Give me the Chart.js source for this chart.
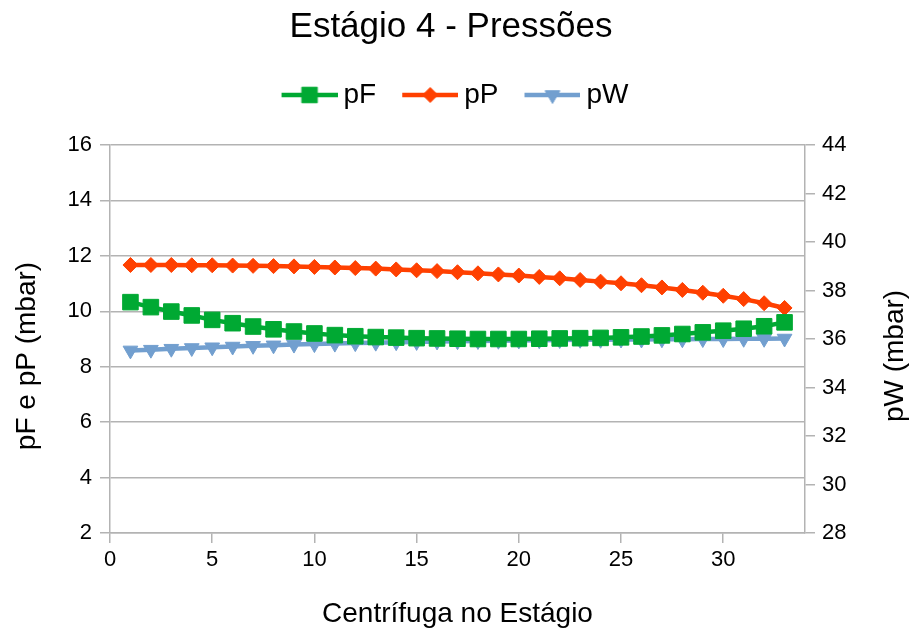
<!DOCTYPE html>
<html>
<head>
<meta charset="utf-8">
<title>Estágio 4 - Pressões</title>
<script src="https://cdn.jsdelivr.net/npm/chart.js@4.4.0/dist/chart.umd.min.js"></script>
<style>
	html, body { margin: 0; padding: 0; background: #fff; }
	#wrap { width: 910px; height: 637px; }
</style>
</head>
<body>
<div id="wrap"><canvas id="pressoes" width="910" height="637"></canvas></div>
<script>
// stage number of each centrifuge
const stages = [1, 2, 3, 4, 5, 6, 7, 8, 9, 10, 11, 12, 13, 14, 15, 16, 17,
	18, 19, 20, 21, 22, 23, 24, 25, 26, 27, 28, 29, 30, 31, 32, 33];

// pressures in mbar
const pF = [10.33, 10.15, 9.99, 9.85, 9.69, 9.57, 9.45, 9.35, 9.27, 9.20, 9.14,
	9.10, 9.07, 9.05, 9.03, 9.02, 9.01, 9.00, 9.00, 9.00, 9.01, 9.02,
	9.03, 9.04, 9.06, 9.09, 9.13, 9.18, 9.24, 9.30, 9.37, 9.46, 9.60];
const pP = [11.67, 11.67, 11.67, 11.66, 11.66, 11.65, 11.64, 11.63, 11.62, 11.60, 11.58,
	11.56, 11.54, 11.51, 11.48, 11.45, 11.41, 11.37, 11.33, 11.29, 11.24, 11.19,
	11.13, 11.07, 11.01, 10.94, 10.86, 10.77, 10.67, 10.56, 10.44, 10.29, 10.12];
const pW = [35.53, 35.56, 35.60, 35.63, 35.66, 35.69, 35.72, 35.74, 35.77, 35.79, 35.81,
	35.83, 35.85, 35.87, 35.88, 35.90, 35.91, 35.92, 35.93, 35.94, 35.95, 35.96,
	35.97, 35.97, 35.98, 35.98, 35.99, 35.99, 36.00, 36.00, 36.01, 36.01, 36.02];

// axis ticks
const xTicks = [0, 5, 10, 15, 20, 25, 30];
const xMax = 34;
const leftTicks = [2, 4, 6, 8, 10, 12, 14, 16];
const rightTicks = [28, 30, 32, 34, 36, 38, 40, 42, 44];

const GREEN = "#00a933";
const RED = "#ff4000";
const BLUE = "#729fcf";
const GRID = "#b3b3b3";
const FONT = '"Liberation Sans", Arial, sans-serif';

Chart.defaults.font.family = FONT;
Chart.defaults.color = "#000";

const toPoints = (ys) => stages.map((s, i) => ({ x: s, y: ys[i] }));

const markers = [
	{ pointStyle: "rect", pointRadius: 11, pointRotation: 0 },
	{ pointStyle: "rectRot", pointRadius: 7.5, pointRotation: 0 },
	{ pointStyle: "triangle", pointRadius: 8.5, pointRotation: 180 }
];

// legend swatch: a short line with the marker in the middle
function legendIcon(color, m) {
	const c = document.createElement("canvas");
	c.width = 72;
	c.height = 26;
	const ctx = c.getContext("2d");
	ctx.strokeStyle = color;
	ctx.fillStyle = color;
	ctx.lineWidth = 4.5;
	ctx.beginPath();
	ctx.moveTo(16, 13);
	ctx.lineTo(72, 13);
	ctx.stroke();
	ctx.lineWidth = 1;
	Chart.helpers.drawPoint(ctx, {
		pointStyle: m.pointStyle, radius: m.pointRadius, rotation: m.pointRotation, borderWidth: 1
	}, 44, 13);
	return c;
}

function series(label, data, color, m, axis) {
	return {
		label,
		data: toPoints(data),
		yAxisID: axis,
		borderColor: color,
		backgroundColor: color,
		borderWidth: 4.5,
		tension: 0,
		pointBackgroundColor: color,
		pointBorderColor: color,
		pointBorderWidth: 1,
		...m
	};
}

const datasets = [
	series("pF", pF, GREEN, markers[0], "y"),
	series("pP", pP, RED, markers[1], "y"),
	series("pW", pW, BLUE, markers[2], "y1")
];
const icons = datasets.map((d, i) => legendIcon(d.borderColor, markers[i]));

// extra room between the legend and the plot
const legendGap = {
	id: "legendGap",
	beforeInit(chart) {
		const fit = chart.legend.fit;
		chart.legend.fit = function () {
			fit.call(this);
			this.height += 26;
		};
	}
};

// vertical axis titles, both reading bottom to top
const sideTitles = {
	id: "sideTitles",
	afterDraw(chart) {
		const { ctx, chartArea } = chart;
		const midY = (chartArea.top + chartArea.bottom) / 2 + 17;
		ctx.save();
		ctx.font = "28px " + FONT;
		ctx.fillStyle = "#000";
		ctx.textAlign = "center";
		ctx.textBaseline = "middle";
		[["pF e pP (mbar)", 27], ["pW (mbar)", 895]].forEach(([text, x]) => {
			ctx.save();
			ctx.translate(x, midY);
			ctx.rotate(-Math.PI / 2);
			ctx.fillText(text, 0, 0);
			ctx.restore();
		});
		ctx.restore();
	}
};

const axisGrid = (onChart) => ({
	display: true,
	drawOnChartArea: onChart,
	drawTicks: true,
	tickLength: 10,
	color: GRID,
	tickColor: GRID,
	lineWidth: 1.5
});
const axisBorder = { display: true, color: GRID, width: 1.5 };

new Chart(document.getElementById("pressoes"), {
	type: "line",
	data: { datasets },
	options: {
		responsive: false,
		animation: false,
		layout: { padding: { left: 0, right: 8, top: 0, bottom: 0 } },
		plugins: {
			title: {
				display: true,
				text: "Estágio 4 - Pressões",
				font: { size: 35, weight: "normal" },
				color: "#000",
				padding: { top: 6, bottom: 15 }
			},
			legend: {
				display: true,
				labels: {
					usePointStyle: true,
					pointStyleWidth: 56,
					padding: 18,
					font: { size: 28 },
					color: "#000",
					generateLabels(chart) {
						const items = Chart.defaults.plugins.legend.labels.generateLabels(chart);
						items.forEach((it, i) => {
							it.pointStyle = icons[i];
							it.rotation = 0;
						});
						return items;
					}
				}
			},
			tooltip: { enabled: false }
		},
		scales: {
			x: {
				type: "linear",
				min: 0,
				max: xMax,
				afterBuildTicks: (s) => { s.ticks = xTicks.map((v) => ({ value: v })); },
				afterFit: (s) => { s.height = 104; },
				ticks: { padding: 4, font: { size: 22 }, color: "#000" },
				grid: axisGrid(false),
				border: axisBorder,
				title: {
					display: true,
					text: "Centrífuga no Estágio",
					font: { size: 28 },
					color: "#000",
					padding: { top: 0, bottom: 6 }
				}
			},
			y: {
				type: "linear",
				position: "left",
				min: leftTicks[0],
				max: leftTicks[leftTicks.length - 1],
				afterBuildTicks: (s) => { s.ticks = leftTicks.map((v) => ({ value: v })); },
				afterFit: (s) => { s.width = 110; },
				ticks: { padding: 8, font: { size: 22 }, color: "#000" },
				grid: axisGrid(true),
				border: axisBorder
			},
			y1: {
				type: "linear",
				position: "right",
				min: rightTicks[0],
				max: rightTicks[rightTicks.length - 1],
				afterBuildTicks: (s) => { s.ticks = rightTicks.map((v) => ({ value: v })); },
				afterFit: (s) => { s.width = 97; },
				ticks: { padding: 7, font: { size: 22 }, color: "#000" },
				grid: axisGrid(false),
				border: axisBorder
			}
		}
	},
	plugins: [legendGap, sideTitles]
});
</script>
</body>
</html>
